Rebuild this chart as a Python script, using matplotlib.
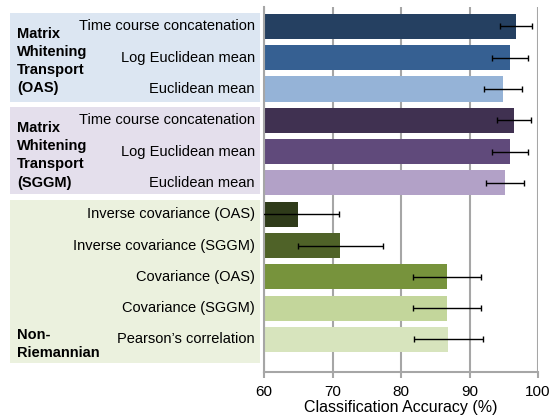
import matplotlib.pyplot as plt
from matplotlib.patches import Rectangle
from matplotlib.transforms import blended_transform_factory

plt.rcParams['font.family'] = ['Liberation Sans', 'DejaVu Sans']

methods = ["Time course concatenation", "Log Euclidean mean", "Euclidean mean",
           "Time course concatenation", "Log Euclidean mean", "Euclidean mean",
           "Inverse covariance (OAS)", "Inverse covariance (SGGM)",
           "Covariance (OAS)", "Covariance (SGGM)", "Pearson\u2019s correlation"]
accuracy = [96.8, 95.9, 94.9, 96.5, 95.9, 95.2, 65.0, 71.1, 86.7, 86.7, 86.9]
errors = [2.3, 2.6, 2.75, 2.5, 2.6, 2.8, 6.0, 6.2, 5.0, 5.0, 5.05]
colors = ["#254061", "#366092", "#95b3d7", "#403151", "#604a7b", "#b2a1c7",
          "#2f3b1a", "#4f6228", "#77933c", "#c3d69b", "#d7e4bd"]
groups = ["Matrix\nWhitening\nTransport\n(OAS)",
          "Matrix\nWhitening\nTransport\n(SGGM)",
          "Non-\nRiemannian"]
xticks = [60, 70, 80, 90, 100]

fig = plt.figure(figsize=(5.53, 4.17), dpi=100)
ax = fig.add_axes([0.4774, 0.1079, 0.4955, 0.8753])

pos = list(range(len(methods)))
ax.barh(pos, accuracy, height=0.8, color=colors, zorder=2)
ax.errorbar(accuracy, pos, xerr=errors, fmt='none', ecolor='black',
            elinewidth=1, capsize=2, capthick=1, zorder=3)

ax.set_xlim(60, 100)
ax.set_ylim(11.04, -0.62)
ax.set_xticks(xticks)
ax.set_yticks([])
ax.grid(axis='x', color='#a6a6a6', linewidth=1.5, zorder=0)
for s in ['top', 'right']:
    ax.spines[s].set_visible(False)
for s in ['left', 'bottom']:
    ax.spines[s].set_color('#a6a6a6')
    ax.spines[s].set_linewidth(1.5)
ax.tick_params(axis='x', direction='out', length=4, width=1.5, color='#a6a6a6',
               labelsize=11, pad=5)
ax.set_xlabel("Classification Accuracy (%)", fontsize=11.5, labelpad=1)

tr = blended_transform_factory(fig.transFigure, ax.transData)
panels = [(-0.43, 2.41, "#dce6f2"), (2.57, 5.35, "#e4dfec"), (5.54, 10.75, "#ebf1de")]
for y0, y1, c in panels:
    fig.patches.append(Rectangle((0.018, y0), 0.452, y1 - y0, transform=tr,
                                 facecolor=c, edgecolor='none', zorder=0))

for i, m in enumerate(methods):
    fig.text(0.461, i, m, transform=tr, ha='right', va='center', fontsize=10.5)

for g, y in zip(groups, [1.1, 4.12, 10.14]):
    fig.text(0.031, y, g, transform=tr, ha='left', va='center', fontsize=10.5,
             fontweight='bold', linespacing=1.38)

fig.savefig("out.png", dpi=100)
